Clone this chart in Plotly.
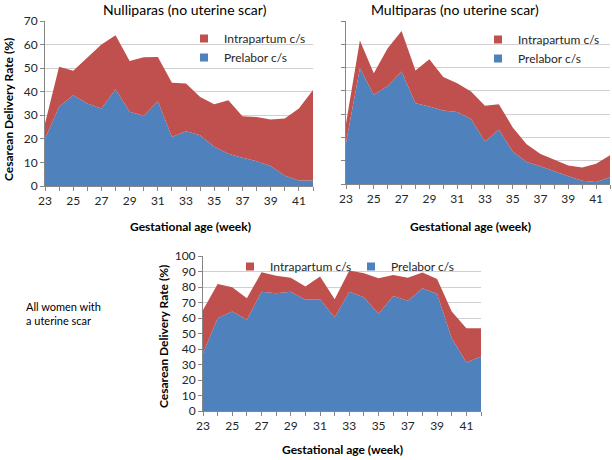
import plotly.graph_objects as go

weeks = list(range(23, 43))
week_labels = [str(w) if w % 2 == 1 else "" for w in weeks]

# Nulliparas (no uterine scar)
nulli_prelabor = [20, 33.6, 38.5, 35, 32.9, 41, 31.5, 29.8, 36, 20.8,
                  23.2, 21.5, 16.6, 13.7, 12, 10.5, 8.5, 4.3, 2.3, 2.3]
nulli_intrapartum = [6.5, 17, 10.4, 19.5, 27.1, 23, 21.5, 24.8, 18.7, 23,
                     20.3, 16.3, 18.1, 22.7, 17.6, 18.8, 19.7, 24.3, 30.6, 38.4]

# Multiparas (no uterine scar)
multi_prelabor = [17.6, 49.7, 38.3, 42.1, 48.3, 34.7, 33.3, 31.6, 30.9, 27.9,
                  18.3, 23.3, 14, 9.4, 7.6, 5.4, 3.3, 1.4, 0.9, 2.9]
multi_intrapartum = [8.4, 11.9, 9.3, 16.2, 17.4, 14, 20.3, 14.3, 12.4, 11.8,
                     15.3, 11, 10.3, 7.7, 5.3, 5, 4.6, 5.7, 7.8, 9.4]

# All women with a uterine scar
scar_prelabor = [37.3, 59.9, 64.2, 58.8, 77, 76, 77, 71.7, 72.1, 60.3,
                 77, 73.4, 62.7, 74.2, 71.2, 79.2, 75.5, 47, 31.3, 35.2]
scar_intrapartum = [27.9, 22.1, 15.6, 13.9, 12.5, 11.3, 9, 8.6, 14.6, 11.8,
                    13.6, 15.4, 22.9, 13.6, 14.8, 10.1, 9.7, 17.2, 22.1, 18.2]

BLUE = "#4F81BD"
RED = "#C0504D"
FONT = "Lato"

fig = go.Figure()

panels = [
    (nulli_prelabor, nulli_intrapartum, "x", "y", "legend", "a"),
    (multi_prelabor, multi_intrapartum, "x2", "y2", "legend2", "b"),
    (scar_prelabor, scar_intrapartum, "x3", "y3", "legend3", "c"),
]
for pre, intra, xa, ya, lg, grp in panels:
    fig.add_trace(go.Scatter(x=weeks, y=pre, name="Prelabor c/s", stackgroup=grp,
                             mode="lines", line=dict(width=0, color=BLUE),
                             fillcolor=BLUE, xaxis=xa, yaxis=ya, showlegend=False))
    fig.add_trace(go.Scatter(x=weeks, y=intra, name="Intrapartum c/s", stackgroup=grp,
                             mode="lines", line=dict(width=0, color=RED),
                             fillcolor=RED, xaxis=xa, yaxis=ya, showlegend=False))
    # legend entries with small square swatches, like the Excel legend
    for name, col in [("Prelabor c/s", BLUE), ("Intrapartum c/s", RED)]:
        fig.add_trace(go.Scatter(x=[None], y=[None], name=name, mode="markers",
                                 marker=dict(symbol="square", size=8, color=col),
                                 xaxis=xa, yaxis=ya, legend=lg))

W, H = 612, 460


def px_x(p):
    return p / W


def px_y(p):
    return 1 - p / H


xaxis_common = dict(range=[23, 42], tickvals=weeks, ticktext=week_labels,
                    showgrid=False, showline=True, linecolor="#868686",
                    ticks="outside", tickcolor="#868686", ticklen=4,
                    tickfont=dict(size=12, color="#262626"), zeroline=False,
                    automargin=False, fixedrange=True)
yaxis_common = dict(showgrid=True, gridcolor="#D0D0D0", showline=True,
                    linecolor="#868686", ticks="outside", tickcolor="#868686",
                    ticklen=4, tickfont=dict(size=12, color="#262626"),
                    zeroline=False, automargin=False, fixedrange=True)
legend_common = dict(xanchor="left", yanchor="top", traceorder="reversed",
                     font=dict(size=12, color="#262626"), bgcolor="rgba(0,0,0,0)",
                     itemwidth=30, tracegroupgap=0)

fig.update_layout(
    template="none",
    width=W, height=H,
    margin=dict(l=0, r=0, t=0, b=0, autoexpand=False),
    paper_bgcolor="white", plot_bgcolor="white",
    font=dict(family=FONT, color="#000000"),
    xaxis=dict(xaxis_common, domain=[px_x(45), px_x(313)], anchor="y"),
    yaxis=dict(yaxis_common, domain=[px_y(186), px_y(21)], range=[0, 70],
               dtick=10, anchor="x"),
    xaxis2=dict(xaxis_common, domain=[px_x(346), px_x(610)], anchor="y2"),
    yaxis2=dict(yaxis_common, domain=[px_y(184), px_y(21)], range=[0, 70],
                dtick=10, showticklabels=False, anchor="x2"),
    xaxis3=dict(xaxis_common, domain=[px_x(203), px_x(481)], anchor="y3"),
    yaxis3=dict(yaxis_common, domain=[px_y(411), px_y(256)], range=[0, 100],
                dtick=10, anchor="x3"),
    legend=dict(legend_common, x=px_x(184), y=px_y(24)),
    legend2=dict(legend_common, x=px_x(478), y=px_y(25)),
    legend3=dict(legend_common, x=px_x(230), y=px_y(252), orientation="h",
                 entrywidth=76),
    showlegend=True,
    hovermode=False,
)

annotations = [
    dict(text="Nulliparas (no uterine scar)", x=px_x(185), y=px_y(9), size=14, bold=False, angle=0),
    dict(text="Multiparas (no uterine scar)", x=px_x(455), y=px_y(9), size=14, bold=False, angle=0),
    dict(text="Gestational age (week)", x=px_x(190), y=px_y(226), size=12, bold=True, angle=0),
    dict(text="Gestational age (week)", x=px_x(470), y=px_y(226), size=12, bold=True, angle=0),
    dict(text="Gestational age (week)", x=px_x(342), y=px_y(449), size=12, bold=True, angle=0),
    dict(text="Cesarean Delivery Rate (%)", x=px_x(9), y=px_y(110), size=12, bold=True, angle=-90),
    dict(text="Cesarean Delivery Rate (%)", x=px_x(163), y=px_y(337), size=12, bold=True, angle=-90),
]
for a in annotations:
    txt = "<b>" + a["text"] + "</b>" if a["bold"] else a["text"]
    fig.add_annotation(text=txt, x=a["x"], y=a["y"], xref="paper", yref="paper",
                       showarrow=False, textangle=a["angle"],
                       font=dict(size=a["size"], family=FONT, color="#000000"),
                       xanchor="center", yanchor="middle")

fig.add_annotation(text="All women with<br>a uterine scar", x=px_x(24), y=px_y(313),
                   xref="paper", yref="paper", showarrow=False, align="left",
                   xanchor="left", yanchor="middle",
                   font=dict(size=11, family=FONT, color="#000000"))

# drop the browser's default page margin so the figure sits at the window origin
fig.write_html("out.html", config={"displayModeBar": False},
               post_script="document.body.style.margin='0';")
